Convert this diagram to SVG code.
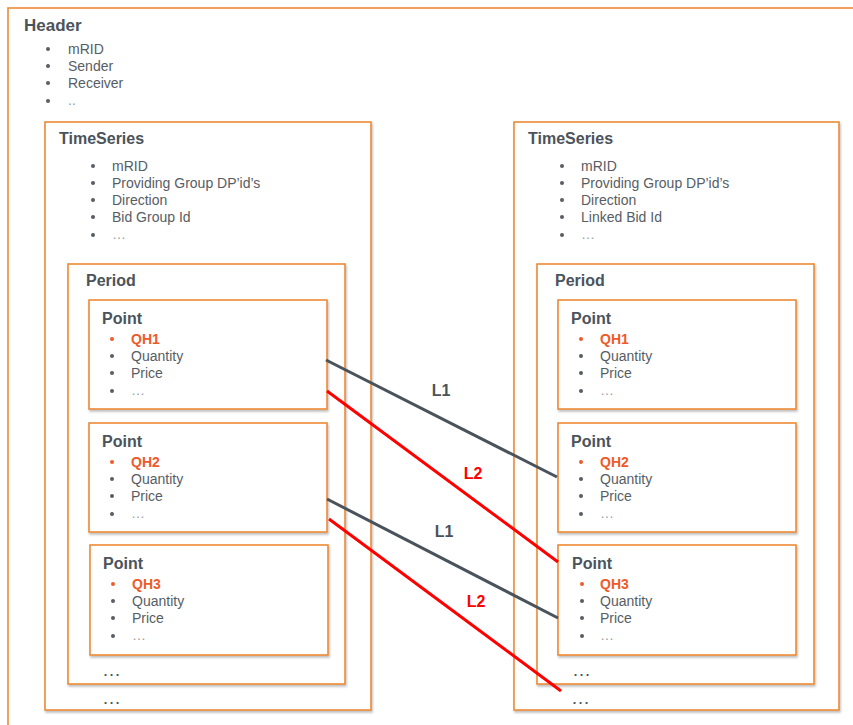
<svg xmlns="http://www.w3.org/2000/svg" width="853" height="725" viewBox="0 0 853 725">
<style>
.box{fill:#fff;stroke:#ED8A35;stroke-width:1.6}
.sh{filter:url(#ds)}
.t{font-family:"Liberation Sans",Arial,sans-serif;font-weight:bold;fill:#4B535B}
.li{font-family:"Liberation Sans",Arial,sans-serif;font-size:14px;fill:#575D64}
.qh{font-family:"Liberation Sans",Arial,sans-serif;font-size:14px;font-weight:bold;fill:#EE5A2A}
.bo{fill:#EE5A2A}
.bg{fill:#575D64}
.el{font-family:"Liberation Sans",Arial,sans-serif;font-size:14px;fill:#9A9EA3}
.dots{font-family:"Liberation Sans",Arial,sans-serif;font-size:19px;fill:#4B535B}
.lg{stroke:#4A535B;stroke-width:3;fill:none}
.lr{stroke:#FF0000;stroke-width:3;fill:none}
.lbl{font-family:"Liberation Sans",Arial,sans-serif;font-size:16px;font-weight:bold;text-anchor:middle}
</style>
<defs>
<filter id="ds" x="-5%" y="-5%" width="110%" height="110%">
<feDropShadow dx="1" dy="2" stdDeviation="1.2" flood-color="#000" flood-opacity="0.25"/>
</filter>
</defs>
<rect width="853" height="725" fill="#fff"/>

<g id="header">
<rect class="box" x="8" y="8" width="870" height="740"/>
<text class="t" x="24" y="31" font-size="17">Header</text>
<g class="li">
<circle class="bg" cx="48" cy="49" r="2"/><text x="68" y="54">mRID</text>
<circle class="bg" cx="48" cy="66" r="2"/><text x="68" y="71">Sender</text>
<circle class="bg" cx="48" cy="83" r="2"/><text x="68" y="88">Receiver</text>
<circle class="bg" cx="48" cy="101" r="2"/><text class="el" x="68" y="105">..</text>
</g>
</g>

<g id="timeseries-left">
<rect class="box sh" x="45" y="122" width="326" height="588"/>
<text class="t" x="59" y="144" font-size="16">TimeSeries</text>
<g class="li">
<circle class="bg" cx="93" cy="166" r="2"/><text x="112" y="171">mRID</text>
<circle class="bg" cx="93" cy="183" r="2"/><text x="112" y="188">Providing Group DP’id’s</text>
<circle class="bg" cx="93" cy="200" r="2"/><text x="112" y="205">Direction</text>
<circle class="bg" cx="93" cy="217" r="2"/><text x="112" y="222">Bid Group Id</text>
<circle class="bg" cx="93" cy="235" r="2"/><text class="el" x="112" y="239">…</text>
</g>
<text class="dots" x="102" y="704">…</text>
</g>

<g id="period-left">
<rect class="box sh" x="68" y="264" width="277" height="420"/>
<text class="t" x="86" y="286" font-size="16">Period</text>
<text class="dots" x="102" y="676">…</text>
</g>

<g id="point-left-1">
<rect class="box sh" x="89" y="300" width="238" height="109"/>
<text class="t" x="102" y="324" font-size="16">Point</text>
<circle class="bo" cx="112" cy="339" r="2"/><text class="qh" x="131" y="344">QH1</text>
<circle class="bg" cx="112" cy="356" r="2"/><text class="li" x="131" y="361">Quantity</text>
<circle class="bg" cx="112" cy="373" r="2"/><text class="li" x="131" y="378">Price</text>
<circle class="bg" cx="112" cy="391" r="2"/><text class="el" x="131" y="395">…</text>
</g>

<g id="point-left-2">
<rect class="box sh" x="89" y="423" width="238" height="109"/>
<text class="t" x="102" y="447" font-size="16">Point</text>
<circle class="bo" cx="112" cy="462" r="2"/><text class="qh" x="131" y="467">QH2</text>
<circle class="bg" cx="112" cy="479" r="2"/><text class="li" x="131" y="484">Quantity</text>
<circle class="bg" cx="112" cy="496" r="2"/><text class="li" x="131" y="501">Price</text>
<circle class="bg" cx="112" cy="514" r="2"/><text class="el" x="131" y="518">…</text>
</g>

<g id="point-left-3">
<rect class="box sh" x="90" y="545" width="238" height="110"/>
<text class="t" x="103" y="569" font-size="16">Point</text>
<circle class="bo" cx="113" cy="584" r="2"/><text class="qh" x="132" y="589">QH3</text>
<circle class="bg" cx="113" cy="601" r="2"/><text class="li" x="132" y="606">Quantity</text>
<circle class="bg" cx="113" cy="618" r="2"/><text class="li" x="132" y="623">Price</text>
<circle class="bg" cx="113" cy="636" r="2"/><text class="el" x="132" y="640">…</text>
</g>

<g id="timeseries-right">
<rect class="box sh" x="514" y="122" width="325" height="588"/>
<text class="t" x="528" y="144" font-size="16">TimeSeries</text>
<g class="li">
<circle class="bg" cx="562" cy="166" r="2"/><text x="581" y="171">mRID</text>
<circle class="bg" cx="562" cy="183" r="2"/><text x="581" y="188">Providing Group DP’id’s</text>
<circle class="bg" cx="562" cy="200" r="2"/><text x="581" y="205">Direction</text>
<circle class="bg" cx="562" cy="217" r="2"/><text x="581" y="222">Linked Bid Id</text>
<circle class="bg" cx="562" cy="235" r="2"/><text class="el" x="581" y="239">…</text>
</g>
<text class="dots" x="571" y="704">…</text>
</g>

<g id="period-right">
<rect class="box sh" x="537" y="264" width="277" height="420"/>
<text class="t" x="555" y="286" font-size="16">Period</text>
<text class="dots" x="572" y="676">…</text>
</g>

<g id="point-right-1">
<rect class="box sh" x="558" y="300" width="238" height="109"/>
<text class="t" x="571" y="324" font-size="16">Point</text>
<circle class="bo" cx="581" cy="339" r="2"/><text class="qh" x="600" y="344">QH1</text>
<circle class="bg" cx="581" cy="356" r="2"/><text class="li" x="600" y="361">Quantity</text>
<circle class="bg" cx="581" cy="373" r="2"/><text class="li" x="600" y="378">Price</text>
<circle class="bg" cx="581" cy="391" r="2"/><text class="el" x="600" y="395">…</text>
</g>

<g id="point-right-2">
<rect class="box sh" x="558" y="423" width="238" height="109"/>
<text class="t" x="571" y="447" font-size="16">Point</text>
<circle class="bo" cx="581" cy="462" r="2"/><text class="qh" x="600" y="467">QH2</text>
<circle class="bg" cx="581" cy="479" r="2"/><text class="li" x="600" y="484">Quantity</text>
<circle class="bg" cx="581" cy="496" r="2"/><text class="li" x="600" y="501">Price</text>
<circle class="bg" cx="581" cy="514" r="2"/><text class="el" x="600" y="518">…</text>
</g>

<g id="point-right-3">
<rect class="box sh" x="558" y="545" width="238" height="110"/>
<text class="t" x="572" y="569" font-size="16">Point</text>
<circle class="bo" cx="582" cy="584" r="2"/><text class="qh" x="600" y="589">QH3</text>
<circle class="bg" cx="582" cy="601" r="2"/><text class="li" x="600" y="606">Quantity</text>
<circle class="bg" cx="582" cy="618" r="2"/><text class="li" x="600" y="623">Price</text>
<circle class="bg" cx="582" cy="636" r="2"/><text class="el" x="600" y="640">…</text>
</g>

<g id="connectors">
<line class="lg" x1="326" y1="360" x2="557" y2="477"/>
<line class="lr" x1="327" y1="391" x2="558" y2="562"/>
<line class="lg" x1="327" y1="499" x2="558" y2="618"/>
<line class="lr" x1="329" y1="519" x2="561" y2="691"/>
<text class="lbl" x="441" y="396" fill="#4A535B">L1</text>
<text class="lbl" x="473" y="479" fill="#FF0000">L2</text>
<text class="lbl" x="444" y="537" fill="#4A535B">L1</text>
<text class="lbl" x="476" y="607" fill="#FF0000">L2</text>
</g>
</svg>
